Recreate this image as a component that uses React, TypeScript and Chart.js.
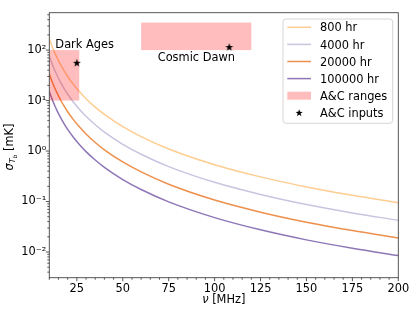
import React, { useEffect, useRef } from "react";
import { Chart, registerables } from "chart.js";
Chart.register(...registerables);

// ---- data ----
const freqs = [10, 11, 12, 13, 14, 16, 18, 20, 23, 26, 30, 35, 40, 50, 60, 75, 100, 125, 150, 175, 200];
const sigma800 = [169.9, 133.9, 107.7, 88.2, 73.3, 52.5, 39.1, 30.0, 21.2, 15.6, 10.9, 7.42, 5.31, 3.04, 1.93, 1.10, 0.537, 0.308, 0.195, 0.133, 0.095];
const sigma4000 = [76.0, 59.9, 48.2, 39.4, 32.8, 23.5, 17.5, 13.4, 9.48, 6.98, 4.87, 3.32, 2.37, 1.36, 0.863, 0.492, 0.240, 0.138, 0.0872, 0.0595, 0.0425];
const sigma20000 = [34.0, 26.8, 21.5, 17.6, 14.7, 10.5, 7.82, 6.00, 4.24, 3.12, 2.18, 1.48, 1.06, 0.608, 0.386, 0.220, 0.107, 0.0616, 0.0390, 0.0266, 0.0190];
const sigma100000 = [15.2, 12.0, 9.63, 7.89, 6.56, 4.70, 3.50, 2.68, 1.90, 1.40, 0.975, 0.664, 0.475, 0.272, 0.173, 0.0984, 0.0480, 0.0275, 0.0174, 0.0119, 0.0085];
const seriesLabels = ["800 hr", "4000 hr", "20000 hr", "100000 hr"];
const seriesColors = ["rgba(253,184,99,0.7)", "rgba(178,171,210,0.7)", "rgba(230,97,1,0.7)", "rgba(94,60,153,0.7)"];

const rangeLabels = ["Dark Ages", "Cosmic Dawn"];
const rangeFreqMin = [10, 60];
const rangeFreqMax = [26.3, 120];
const rangeSigmaMin = [10, 100];
const rangeSigmaMax = [100, 350];
const rangeLabelFreq = [13.3, 69];
const rangeLabelSigma = [112, 62];
const inputFreq = [25, 108];
const inputSigma = [56, 115];

const xTicks = [25, 50, 75, 100, 125, 150, 175, 200];
const yTicks = [0.01, 0.1, 1, 10, 100];
const yTickLabels = ["10\u207B\u00B2", "10\u207B\u00B9", "10\u2070", "10\u00B9", "10\u00B2"];
const legendExtra = ["A&C ranges", "A&C inputs"];

const FONT = "DejaVu Sans";
const FS = 11.4;
const RANGE_COLOR = "rgba(255,0,0,0.26)";

function starPath(ctx: CanvasRenderingContext2D, cx: number, cy: number, r: number) {
  ctx.beginPath();
  for (let i = 0; i < 10; i++) {
    const rr = i % 2 === 0 ? r : r * 0.4;
    const a = -Math.PI / 2 + (i * Math.PI) / 5;
    const px = cx + rr * Math.cos(a);
    const py = cy + rr * Math.sin(a);
    if (i === 0) ctx.moveTo(px, py);
    else ctx.lineTo(px, py);
  }
  ctx.closePath();
}

const overlayPlugin = {
  id: "overlay",
  beforeDatasetDraw(chart: any, args: any) {
    if (args.index !== 0) return;
    const ctx = chart.ctx;
    const xs = chart.scales.x;
    const ys = chart.scales.y;
    const ca = chart.chartArea;
    ctx.save();
    ctx.beginPath();
    ctx.rect(ca.left, ca.top, ca.right - ca.left, ca.bottom - ca.top);
    ctx.clip();
    ctx.fillStyle = RANGE_COLOR;
    for (let i = 0; i < rangeLabels.length; i++) {
      const x0 = xs.getPixelForValue(rangeFreqMin[i]);
      const x1 = xs.getPixelForValue(rangeFreqMax[i]);
      const y0 = ys.getPixelForValue(rangeSigmaMax[i]);
      const y1 = ys.getPixelForValue(rangeSigmaMin[i]);
      ctx.fillRect(x0, y0, x1 - x0, y1 - y0);
    }
    ctx.restore();
  },
  afterDraw(chart: any) {
    const ctx: CanvasRenderingContext2D = chart.ctx;
    const xs = chart.scales.x;
    const ys = chart.scales.y;
    const ca = chart.chartArea;
    ctx.save();
    // keep the empty lower-left corner clean
    ctx.fillStyle = "#fff";
    ctx.fillRect(0, ca.bottom + 1, ca.left - 4, 312 - ca.bottom);

    ctx.fillStyle = "#000";
    ctx.font = `${FS}px "${FONT}"`;
    ctx.textAlign = "left";
    ctx.textBaseline = "alphabetic";
    for (let i = 0; i < rangeLabels.length; i++) {
      ctx.fillText(rangeLabels[i], xs.getPixelForValue(rangeLabelFreq[i]), ys.getPixelForValue(rangeLabelSigma[i]));
    }
    // spines
    ctx.strokeStyle = "#444";
    ctx.lineWidth = 0.9;
    ctx.strokeRect(ca.left, ca.top, ca.right - ca.left, ca.bottom - ca.top);
    // ticks
    ctx.beginPath();
    for (let v = 10; v <= 200; v += 5) {
      const px = xs.getPixelForValue(v);
      const major = xTicks.includes(v);
      ctx.moveTo(px, ca.bottom);
      ctx.lineTo(px, ca.bottom + (major ? 3.5 : 2));
    }
    for (let d = -3; d <= 2; d++) {
      for (let k = 1; k <= 9; k++) {
        const v = k * Math.pow(10, d);
        if (v < ys.min || v > ys.max) continue;
        const py = ys.getPixelForValue(v);
        ctx.moveTo(ca.left, py);
        ctx.lineTo(ca.left - (k === 1 ? 3.5 : 2), py);
      }
    }
    ctx.stroke();

    // legend
    const lx = 283, ly = 19, lw = 109.7, lh = 104.3;
    ctx.fillStyle = "rgba(255,255,255,0.8)";
    ctx.strokeStyle = "#d6d6d6";
    ctx.lineWidth = 1;
    ctx.beginPath();
    (ctx as any).roundRect(lx, ly, lw, lh, 3);
    ctx.fill();
    ctx.stroke();
    const rowY = [27.3, 44.4, 61.5, 78.6, 95.7, 112.8];
    const hx0 = 287.3, hx1 = 311, tx = 320;
    ctx.font = `${FS}px "${FONT}"`;
    for (let i = 0; i < seriesLabels.length; i++) {
      ctx.strokeStyle = seriesColors[i];
      ctx.lineWidth = 1.5;
      ctx.beginPath();
      ctx.moveTo(hx0, rowY[i]);
      ctx.lineTo(hx1, rowY[i]);
      ctx.stroke();
      ctx.fillStyle = "#000";
      ctx.fillText(seriesLabels[i], tx, rowY[i] + 4.1);
    }
    ctx.fillStyle = RANGE_COLOR;
    ctx.fillRect(hx0, rowY[4] - 4, hx1 - hx0, 8);
    ctx.fillStyle = "#000";
    ctx.fillText(legendExtra[0], tx, rowY[4] + 4.1);
    starPath(ctx, (hx0 + hx1) / 2, rowY[5] + 0.3, 3.8);
    ctx.fill();
    ctx.fillText(legendExtra[1], tx, rowY[5] + 4.1);

    // x title
    ctx.font = `italic ${FS}px "${FONT}"`;
    const wNu = ctx.measureText("\u03BD").width;
    ctx.font = `${FS}px "${FONT}"`;
    const wRest = ctx.measureText(" [MHz]").width;
    const cx = (ca.left + ca.right) / 2;
    const sx = cx - (wNu + wRest) / 2;
    ctx.font = `italic ${FS}px "${FONT}"`;
    ctx.fillText("\u03BD", sx, 303);
    ctx.font = `${FS}px "${FONT}"`;
    ctx.fillText(" [MHz]", sx + wNu, 303);

    // y title (rotated, with subscript)
    ctx.translate(12.5, 147);
    ctx.rotate(-Math.PI / 2);
    const parts = [
      { t: "\u03C3", f: `italic ${FS}px "${FONT}"`, dy: 0 },
      { t: "T", f: `italic ${FS * 0.7}px "${FONT}"`, dy: 2.4 },
      { t: "b", f: `italic ${FS * 0.5}px "${FONT}"`, dy: 4.2 },
      { t: " [mK]", f: `${FS}px "${FONT}"`, dy: 0 },
    ];
    let total = 0;
    const widths: number[] = [];
    for (const p of parts) {
      ctx.font = p.f;
      const w = ctx.measureText(p.t).width;
      widths.push(w);
      total += w;
    }
    let px = -total / 2;
    parts.forEach((p, i) => {
      ctx.font = p.f;
      ctx.fillText(p.t, px, p.dy);
      px += widths[i];
    });
    ctx.restore();
  },
};

export default function App() {
  const ref = useRef<HTMLCanvasElement | null>(null);
  useEffect(() => {
    document.body.style.margin = "0";
    const canvas = ref.current!;
    const star = document.createElement("canvas");
    star.width = 10;
    star.height = 10;
    const sctx = star.getContext("2d")!;
    sctx.fillStyle = "#000";
    starPath(sctx, 5, 5.3, 4.2);
    sctx.fill();

    const lineSets = [sigma800, sigma4000, sigma20000, sigma100000].map((arr, i) => ({
      type: "line" as const,
      label: seriesLabels[i],
      data: freqs.map((f, j) => ({ x: f, y: arr[j] })),
      borderColor: seriesColors[i],
      borderWidth: 1.5,
      pointRadius: 0,
      cubicInterpolationMode: "monotone" as const,
      fill: false,
    }));

    const chart = new Chart(canvas, {
      type: "line",
      data: {
        datasets: [
          {
            type: "scatter" as const,
            label: legendExtra[1],
            data: inputFreq.map((f, i) => ({ x: f, y: inputSigma[i] })),
            pointStyle: star as any,
            pointRadius: 5,
            showLine: false,
          } as any,
          ...lineSets,
        ],
      },
      options: {
        responsive: false,
        animation: false,
        devicePixelRatio: 1,
        layout: { padding: { top: 12.7, right: 16.7, left: 0, bottom: 0 } },
        plugins: { legend: { display: false }, tooltip: { enabled: false } },
        scales: {
          x: {
            type: "linear",
            min: 10,
            max: 200,
            grid: { display: false, drawTicks: false, tickLength: 0 },
            border: { display: false },
            afterBuildTicks: (s: any) => {
              s.ticks = xTicks.map((v) => ({ value: v }));
            },
            afterFit: (s: any) => {
              s.height = 312 - 277.7;
            },
            ticks: {
              autoSkip: false,
              maxRotation: 0,
              padding: 5,
              color: "#000",
              font: { family: FONT, size: FS },
              callback: (v: any) => (xTicks.includes(Number(v)) ? String(v) : ""),
            },
          },
          y: {
            type: "logarithmic",
            min: 0.0031,
            max: 550,
            grid: { display: false, drawTicks: false, tickLength: 0 },
            border: { display: false },
            afterBuildTicks: (s: any) => {
              s.ticks = yTicks.map((v) => ({ value: v }));
            },
            afterFit: (s: any) => {
              s.width = 49.3;
            },
            ticks: {
              autoSkip: false,
              padding: 3,
              color: "#000",
              font: { family: FONT, size: FS },
              callback: (v: any) => {
                const i = yTicks.findIndex((t) => Math.abs(t - v) / t < 1e-6);
                return i >= 0 ? yTickLabels[i] : "";
              },
            },
          },
        },
      },
      plugins: [overlayPlugin],
    });
    return () => chart.destroy();
  }, []);
  return (
    <div style={{ width: 415, height: 312 }}>
      <canvas ref={ref} width={415} height={312} style={{ width: 415, height: 312, display: "block" }} />
    </div>
  );
}
